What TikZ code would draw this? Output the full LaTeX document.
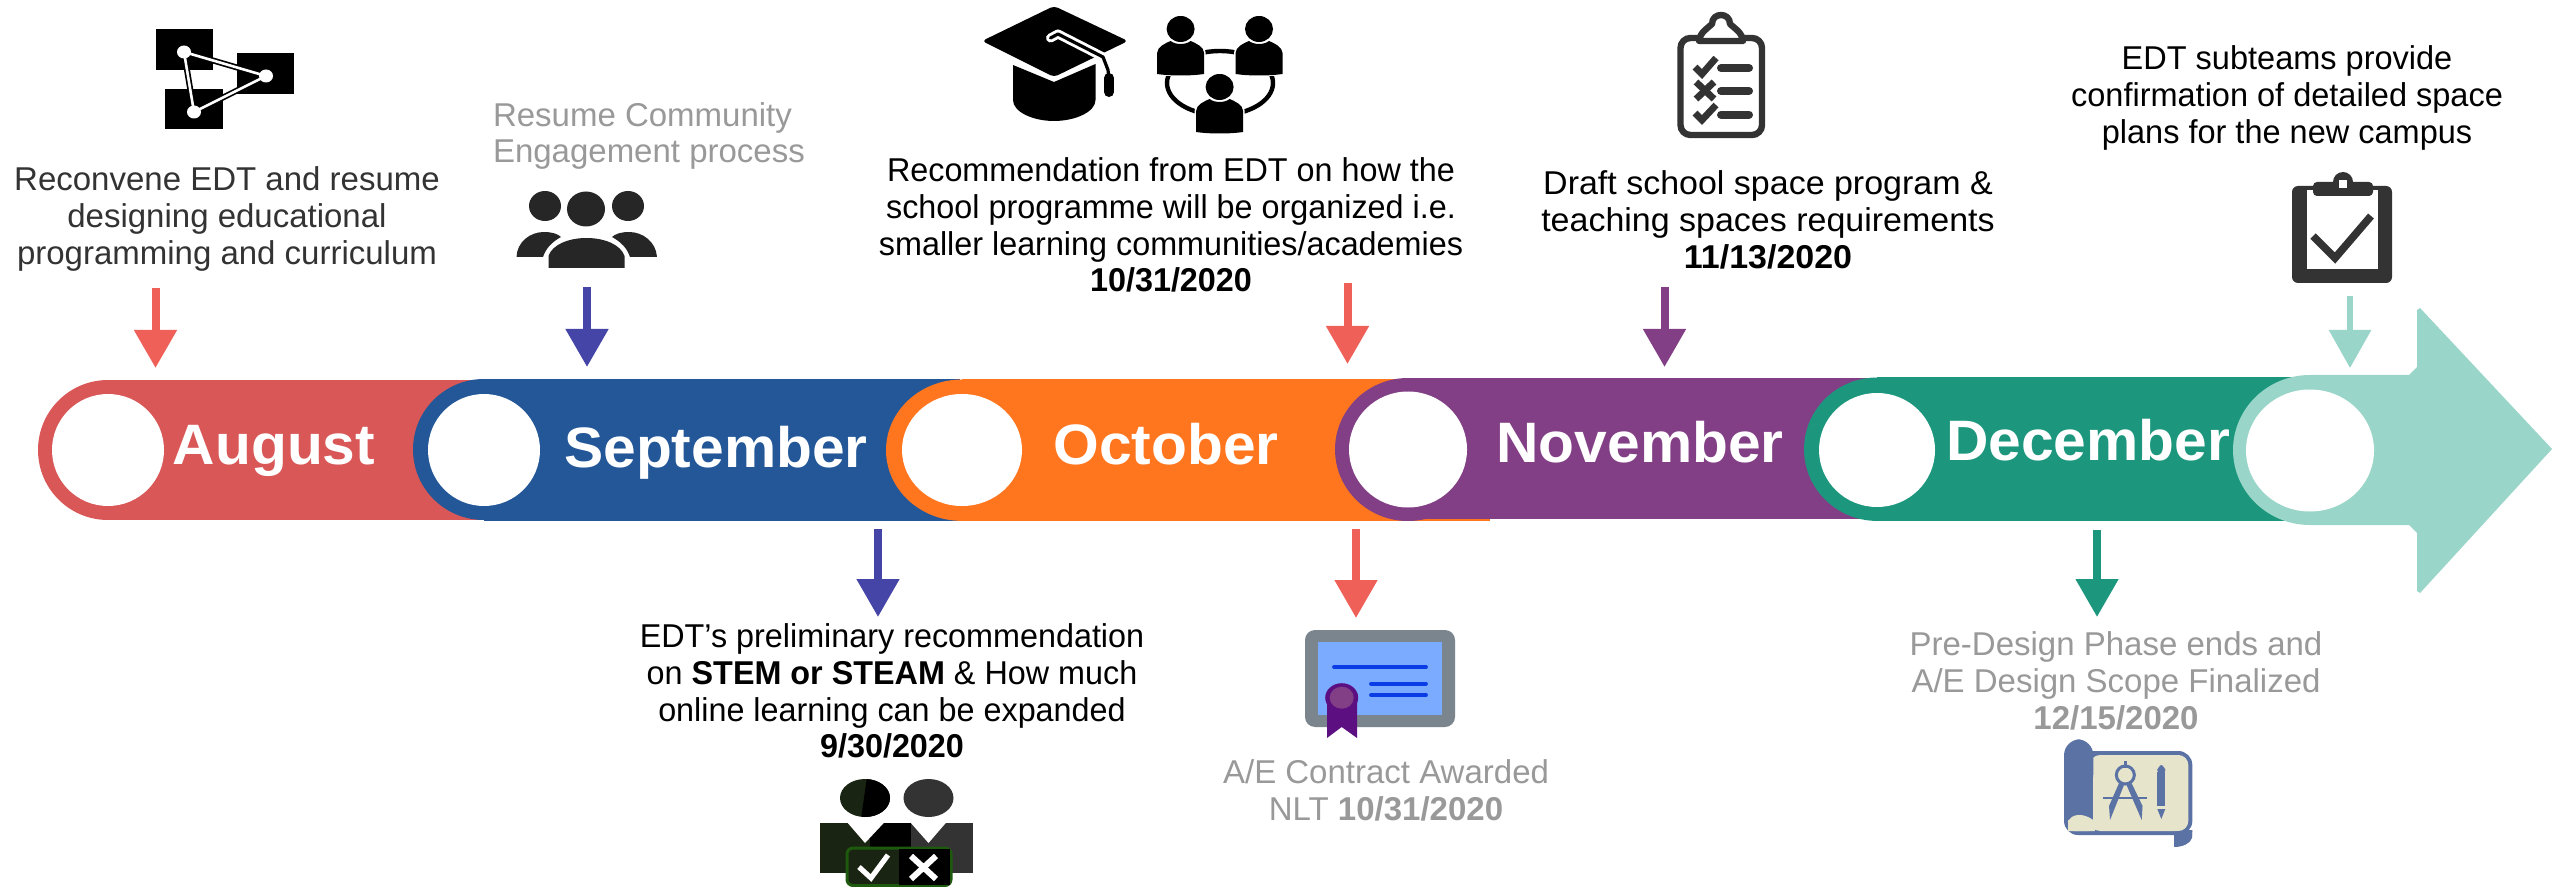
\documentclass[tikz,border=0pt]{standalone}
\usepackage{fontspec}
\setmainfont{Liberation Sans}
\usetikzlibrary{arrows.meta}
\definecolor{cAug}{HTML}{D95757}
\definecolor{cSep}{HTML}{235797}
\definecolor{cOct}{HTML}{FF761F}
\definecolor{cNov}{HTML}{823F85}
\definecolor{cDec}{HTML}{1C977D}
\definecolor{cEnd}{HTML}{99D5C8}
\definecolor{aRed}{HTML}{EF6058}
\definecolor{aBlue}{HTML}{4545A8}
\definecolor{grayT}{HTML}{999999}
\definecolor{darkT}{HTML}{333333}
\definecolor{ink}{HTML}{262626}
\definecolor{suit}{HTML}{1A2412}
\definecolor{boxG}{HTML}{1E5A0E}
\definecolor{bpBlue}{HTML}{5B72A4}
\definecolor{bpCream}{HTML}{E6E4CB}
\definecolor{certG}{HTML}{7B858E}
\definecolor{certB}{HTML}{7AABFF}
\definecolor{certL}{HTML}{0A3CE6}
\definecolor{certP}{HTML}{5B0F80}
\tikzset{
  x=0.5pt,y=-0.5pt,
  txt/.style={align=center,inner sep=0pt,outer sep=0pt,transform shape,font=\fontsize{16.5}{18.4}\selectfont},
  month/.style={inner sep=0pt,outer sep=0pt,anchor=base,text=white,font=\fontsize{28.5}{32}\bfseries\selectfont,transform shape,xscale=1.03},
  tick/.style={line width=4pt,-{Triangle[width=20.5pt,length=19pt]}},
  tickthin/.style={line width=3pt,-{Triangle[width=20.5pt,length=19pt]}},
  hole/.style={fill=white},
}
\begin{document}
\begin{tikzpicture}
\fill[white] (0,0) rectangle (2552,887);
\useasboundingbox (0,0) rectangle (2552,887);

% bands
\fill[cAug] (108,380) rectangle (560,520);
\fill[cAug] (108,450) ellipse [x radius=70,y radius=70];
\fill[cSep] (484,379) rectangle (960,520.5);
\fill[cSep] (484,449.5) ellipse [x radius=71,y radius=70.5];
\fill[cOct] (962,379.5) rectangle (1490,521);
\fill[cOct] (962,450.2) ellipse [x radius=76,y radius=70.7];
\fill[cNov] (1408,378) rectangle (1945,519);
\fill[cNov] (1408,449.5) ellipse [x radius=73,y radius=71.5];
\fill[cDec] (1877,377.5) rectangle (2310,521);
\fill[cDec] (1877,449.2) ellipse [x radius=73,y radius=71.7];
\fill[cEnd] (2310,375) -- (2409,375) -- (2417,367) -- (2417,310) -- (2420,308) -- (2552,449)
  -- (2420,593) -- (2417,591) -- (2417,533) -- (2409,525) -- (2310,525) -- cycle;
\fill[cEnd] (2310,450) ellipse [x radius=77,y radius=75];

% holes
\fill[hole] (108,450) ellipse [x radius=56,y radius=56];
\fill[hole] (484,450) ellipse [x radius=56,y radius=56];
\fill[hole] (962,450) ellipse [x radius=60,y radius=56];
\fill[hole] (1408,449.5) ellipse [x radius=59,y radius=58];
\fill[hole] (1877,450) ellipse [x radius=58,y radius=57];
\fill[hole] (2310,450.5) ellipse [x radius=64,y radius=61];

% month labels
\node[month] (mAug) at (274,464) {August};
\node[month] (mSep) at (716,467) {September};
\node[month] (mOct) at (1166,464) {October};
\node[month] (mNov) at (1640,462) {November};
\node[month] (mDec) at (2088,460) {December};

% connectors
\coordinate (s1) at (155.5,288); \coordinate (e1) at (155.5,368);
\coordinate (s2) at (587,287);   \coordinate (e2) at (587,367);
\coordinate (s3) at (1347.5,283.5); \coordinate (e3) at (1347.5,364);
\coordinate (s4) at (1664.5,287); \coordinate (e4) at (1664.5,367);
\coordinate (s5) at (2350,296.5); \coordinate (e5) at (2350,368);
\coordinate (s6) at (878,529);   \coordinate (e6) at (878,617);
\coordinate (s7) at (1356,529);  \coordinate (e7) at (1356,618);
\coordinate (s8) at (2097,530);  \coordinate (e8) at (2097,617);
\draw[tick,aRed] (s1) -- (e1);
\draw[tick,aBlue] (s2) -- (e2);
\draw[tick,aRed] (s3) -- (e3);
\draw[tick,cNov] (s4) -- (e4);
\draw[tickthin,cEnd] (s5) -- (e5);
\draw[tick,aBlue] (s6) -- (e6);
\draw[tick,aRed] (s7) -- (e7);
\draw[tick,cDec] (s8) -- (e8);

% texts
\node[txt,text=darkT] (t1) at (227,219) {Reconvene EDT and resume\\designing educational\\programming and curriculum};
\node[txt,text=grayT,align=left,anchor=west] (t2) at (493,136) {Resume Community\\Engagement process};
\node[txt,text=black,xscale=.98] (t3) at (1171,225) {Recommendation from EDT on how the\\school programme will be organized i.e.\\smaller learning communities/academies\\\textbf{10/31/2020}};
\node[txt,text=black,xscale=1.03] (t4) at (1768,220) {Draft school space program \&\\teaching spaces requirements\\\textbf{11/13/2020}};
\node[txt,text=black,xscale=.985] (t5) at (2287,98) {EDT subteams provide\\confirmation of detailed space\\plans for the new campus};
\node[txt,text=black,xscale=.98] (t6) at (892,691) {EDT's preliminary recommendation\\on \textbf{STEM or STEAM} \& How much\\online learning can be expanded\\\textbf{9/30/2020}};
\node[txt,text=grayT] (t7) at (1386,790) {A/E Contract Awarded\\NLT \textbf{10/31/2020}};
\node[txt,text=grayT] (t8) at (2116,681) {Pre-Design Phase ends and\\A/E Design Scope Finalized\\\textbf{12/15/2020}};

% icon: network of squares
\fill[black] (156,29) rectangle (213,70);
\fill[black] (237,53) rectangle (294,94);
\fill[black] (165,89) rectangle (223,129);
\draw[black,line width=3pt,line join=round] (184,52) -- (266,76) -- (194,112) -- cycle;
\draw[white,line width=1.3pt,line join=round] (184,52) -- (266,76) -- (194,112) -- cycle;
\fill[white] (184,52) ellipse [x radius=7,y radius=6.5];
\fill[white] (266,76) ellipse [x radius=7,y radius=6.5];
\fill[white] (194,112) ellipse [x radius=7,y radius=6.5];

% icon: community people
\fill[ink] (545,206) ellipse [x radius=16,y radius=15];
\fill[ink] (586,209) ellipse [x radius=19,y radius=17.5];
\fill[ink] (628,206) ellipse [x radius=16,y radius=15];
\fill[ink] (516.5,257) .. controls (517,242) and (530,232) .. (544,232) .. controls (552,232) and (558,234) .. (561,237)
  .. controls (552,242) and (546,248) .. (543,257) -- cycle;
\fill[ink] (657,257) .. controls (656,242) and (643,232) .. (629,232) .. controls (621,232) and (615,234) .. (612,237)
  .. controls (621,242) and (627,248) .. (630,257) -- cycle;
\fill[ink] (548.5,268) -- (548.5,256) .. controls (552,245) and (568,238) .. (586.5,238)
  .. controls (605,238) and (621,245) .. (624.5,256) -- (624.5,268) -- cycle;

% icon: graduation cap
\fill[black,rounded corners=2pt] (982,41) -- (1054,6) -- (1128,41) -- (1054,77) -- cycle;
\fill[black] (1013,65) -- (1054,82) -- (1095.5,64) -- (1095.5,100) .. controls (1095.5,112) and (1075,121) .. (1054,121)
  .. controls (1033,121) and (1013,112) .. (1013,100) -- cycle;
\draw[white,line width=4.5pt,line cap=round,line join=round] (1050.5,38) -- (1058,34) -- (1103,57) -- (1108,70);
\draw[black,line width=1.6pt,line cap=round,line join=round] (1050.5,38) -- (1058,34) -- (1103,57) -- (1108,70) -- (1109,80);
\draw[black,line width=5pt,line cap=round] (1109,78) -- (1109,92);

% icon: people in a ring
\draw[black,line width=2.2pt] (1220,83) ellipse [x radius=53,y radius=32];
\foreach \hx/\hy in {1180.6/29,1259/29,1219.6/87}{
  \fill[white] (\hx,\hy) ellipse [x radius=17,y radius=15.5];
  \fill[black] (\hx,\hy) ellipse [x radius=14,y radius=13];
  \fill[white,rounded corners=5pt] (\hx-25,\hy+14) rectangle (\hx+25,\hy+47);
  \fill[black] (\hx-23.5,\hy+45) -- (\hx-23.5,\hy+24) .. controls (\hx-23.5,\hy+18) and (\hx-15,\hy+14) .. (\hx-10,\hy+12)
    .. controls (\hx-5,\hy+16) and (\hx+5,\hy+16) .. (\hx+10,\hy+12) .. controls (\hx+15,\hy+14) and (\hx+23.5,\hy+18) .. (\hx+23.5,\hy+24)
    -- (\hx+23.5,\hy+45) .. controls (\hx+10,\hy+47) and (\hx-10,\hy+47) .. (\hx-23.5,\hy+45) -- cycle;
}

% icon: checklist clipboard
\draw[darkT,line width=3.2pt,rounded corners=5pt,fill=white] (1680.5,38) rectangle (1762,135);
\draw[darkT,line width=3.2pt,line join=round,fill=white] (1699,41) .. controls (1700,32) and (1708,28) .. (1712,24)
  .. controls (1712,12) and (1730,12) .. (1730,24) .. controls (1734,28) and (1742,32) .. (1743,41) -- cycle;
\foreach \yy in {68,91,114.6}{\draw[darkT,line width=4pt,line cap=round] (1721,\yy) -- (1749,\yy);}
\draw[darkT,line width=3.4pt] (1695,67) -- (1702,74) -- (1716,58);
\draw[darkT,line width=3.4pt] (1696,82) -- (1714,99) (1714,82) -- (1696,99);
\draw[darkT,line width=3.4pt] (1695,113) -- (1702,120) -- (1716,105);

% icon: clipboard with tick
\fill[darkT,rounded corners=3pt] (2292,186) rectangle (2392,283);
\fill[white] (2307,190) rectangle (2378,269);
\fill[darkT,rounded corners=2pt] (2313,182) rectangle (2373,196);
\fill[darkT] (2343,182) ellipse [x radius=10,y radius=10];
\fill[white] (2339,180) rectangle (2347,188);
\draw[darkT,line width=3.8pt] (2313,236) -- (2335,258) -- (2371,216);

% icon: reviewers
\fill[suit] (865,798) ellipse [x radius=25,y radius=19];
\begin{scope}
  \clip (868,770) -- (900,770) -- (900,826) -- (860,826) -- cycle;
  \fill[black] (865,798) ellipse [x radius=25,y radius=19];
\end{scope}
\fill[darkT] (928.5,798) ellipse [x radius=25,y radius=19];
\fill[darkT] (910,822.7) rectangle (973,873);
\fill[suit] (820,822.7) rectangle (885,873);
\fill[black] (870,822.7) rectangle (911,873);
\fill[white] (847.5,822.7) -- (865,843) -- (884,822.7) -- cycle;
\fill[white] (910.6,822.7) -- (928.5,843) -- (946,822.7) -- cycle;
\draw[fill=suit,draw=boxG,line width=1.5pt,rounded corners=3pt] (847,848) rectangle (951,885.5);
\fill[black] (899,849) rectangle (950,884.5);
\draw[white,line width=2.6pt] (859,867) -- (871,878) -- (888,855);
\draw[white,line width=3pt] (911,856) -- (936,879) (936,856) -- (911,879);

% icon: certificate
\fill[certG,rounded corners=5pt] (1305,630) rectangle (1455,727);
\fill[certB] (1317.5,642) rectangle (1442,715);
\draw[certL,line width=1.9pt,line cap=round] (1334,667) -- (1426,667);
\draw[certL,line width=1.9pt,line cap=round] (1371,683.7) -- (1426,683.7);
\draw[certL,line width=1.9pt,line cap=round] (1371,695) -- (1426,695);
\fill[certP] (1327,695) -- (1357,695) -- (1357,738) -- (1341.7,727) -- (1327,738) -- cycle;
\fill[certP] (1341.7,697.7) ellipse [x radius=16.5,y radius=14.5];
\fill[cNov] (1341.7,697.7) ellipse [x radius=12,y radius=11];

% icon: blueprint scroll
\fill[bpBlue,rounded corners=7pt] (2064,751) rectangle (2192.3,835);
\fill[bpBlue] (2174,830) -- (2192.3,830) -- (2192,838) .. controls (2190,844) and (2182,847) .. (2174,847) -- cycle;
\fill[bpCream,rounded corners=5pt] (2090,755) rectangle (2188.3,831);
\fill[bpCream,rounded corners=3pt] (2068,815) rectangle (2095,831);
\fill[bpBlue,rounded corners=8pt] (2064,739.3) rectangle (2093.3,790);
\fill[bpBlue] (2064,760) rectangle (2093.3,820);
\fill[bpCream] (2068,831) -- (2068,822) .. controls (2071,814) and (2082,812) .. (2093.3,820) -- (2095,831) -- cycle;
\fill[bpBlue] (2174,831) -- (2192,836) -- (2192,831) -- cycle;
\draw[bpBlue,line width=1.5pt] (2125.3,775) ellipse [x radius=9,y radius=9];
\fill[bpBlue] (2123.5,761) rectangle (2127,768);
\fill[bpBlue] (2119.5,782) -- (2124,785) -- (2110,820) -- (2109,806) -- cycle;
\fill[bpBlue] (2131,782) -- (2126.5,785) -- (2141.7,820) -- (2142.5,806) -- cycle;
\draw[bpBlue,line width=1pt] (2103.3,798.3) -- (2147.3,798.3);
\fill[bpBlue,rounded corners=3pt] (2157.3,765) rectangle (2165.3,775);
\fill[bpBlue] (2157.3,772) rectangle (2165.3,806);
\fill[bpBlue] (2157.3,809) -- (2165.3,809) -- (2161.3,819) -- cycle;
\end{tikzpicture}
\end{document}
